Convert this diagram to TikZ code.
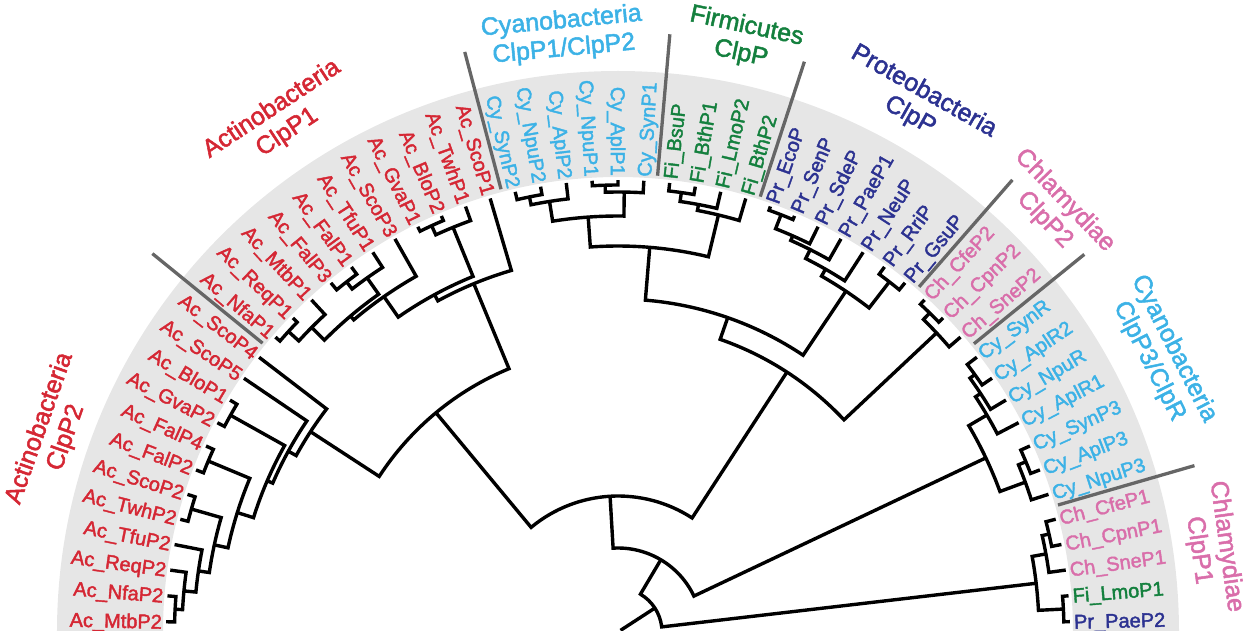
\documentclass[tikz,border=0pt]{standalone}
\usepackage{fontspec}
\setmainfont{Liberation Sans}[FakeBold=2]
\definecolor{act}{RGB}{213,39,52}
\definecolor{cya}{RGB}{60,178,230}
\definecolor{fir}{RGB}{20,128,62}
\definecolor{pro}{RGB}{44,50,145}
\definecolor{chl}{RGB}{217,110,170}
\definecolor{band}{RGB}{230,230,230}
\definecolor{sepc}{RGB}{102,102,102}
\newcommand\LEAF[4]{%
  \pgfmathsetmacro\lang{178.7-3.285*#2}%
  \expandafter\xdef\csname ang@#1\endcsname{\lang}%
  \coordinate (#1) at (\lang:452);
  \ifdim\lang pt>90pt
    \node[leaflab,#3,anchor=east,rotate=\lang-180] (l#1) at (\lang:456) {#4};
  \else
    \node[leaflab,#3,anchor=west,rotate=\lang] (l#1) at (\lang:456) {#4};
  \fi}
\newcommand\CLADE[4]{%
  \edef\angA{\csname ang@#3\endcsname}%
  \edef\angB{\csname ang@#4\endcsname}%
  \pgfmathsetmacro\cang{(\angA+\angB)/2}%
  \expandafter\xdef\csname ang@#1\endcsname{\cang}%
  \coordinate (#1) at (\cang:#2);
  \draw[branch] (#3) -- (\angA:#2) arc[start angle=\angA, end angle=\angB, radius=#2] -- (#4);}
\begin{document}
\begin{tikzpicture}[x=1pt,y=1pt,
  branch/.style={line width=3.4pt, black, line join=miter},
  leaflab/.style={font=\fontsize{20}{21}\selectfont, inner sep=0pt, text height=14.3pt, text depth=0pt},
  grp/.style={font=\fontsize{25}{28}\selectfont, align=center, inner sep=0pt},
  sepline/.style={line width=3.3pt, sepc}]
\clip (-618,2) rectangle (631,632);
\fill[band] (0:455) arc[start angle=0,end angle=180,radius=455] -- (180:561) arc[start angle=180,end angle=0,radius=561] -- cycle;
\foreach \a in {140.9,104.8,85.04,71.9,48.9,39.0,16.1} \draw[sepline] (\a:458) -- (\a:600);
% leaves
\LEAF{t0}{0}{act}{Ac\_MtbP2}
\LEAF{t1}{1}{act}{Ac\_NfaP2}
\LEAF{t2}{2}{act}{Ac\_ReqP2}
\LEAF{t3}{3}{act}{Ac\_TfuP2}
\LEAF{t4}{4}{act}{Ac\_TwhP2}
\LEAF{t5}{5}{act}{Ac\_ScoP2}
\LEAF{t6}{6}{act}{Ac\_FalP2}
\LEAF{t7}{7}{act}{Ac\_FalP4}
\LEAF{t8}{8}{act}{Ac\_GvaP2}
\LEAF{t9}{9}{act}{Ac\_BloP1}
\LEAF{t10}{10}{act}{Ac\_ScoP5}
\LEAF{t11}{11}{act}{Ac\_ScoP4}
\LEAF{t12}{12}{act}{Ac\_NfaP1}
\LEAF{t13}{13}{act}{Ac\_ReqP1}
\LEAF{t14}{14}{act}{Ac\_MtbP1}
\LEAF{t15}{15}{act}{Ac\_FalP3}
\LEAF{t16}{16}{act}{Ac\_FalP1}
\LEAF{t17}{17}{act}{Ac\_TfuP1}
\LEAF{t18}{18}{act}{Ac\_ScoP3}
\LEAF{t19}{19}{act}{Ac\_GvaP1}
\LEAF{t20}{20}{act}{Ac\_BloP2}
\LEAF{t21}{21}{act}{Ac\_TwhP1}
\LEAF{t22}{22}{act}{Ac\_ScoP1}
\LEAF{t23}{23}{cya}{Cy\_SynP2}
\LEAF{t24}{24}{cya}{Cy\_NpuP2}
\LEAF{t25}{25}{cya}{Cy\_AplP2}
\LEAF{t26}{26}{cya}{Cy\_NpuP1}
\LEAF{t27}{27}{cya}{Cy\_AplP1}
\LEAF{t28}{28}{cya}{Cy\_SynP1}
\LEAF{t29}{29}{fir}{Fi\_BsuP}
\LEAF{t30}{30}{fir}{Fi\_BthP1}
\LEAF{t31}{31}{fir}{Fi\_LmoP2}
\LEAF{t32}{32}{fir}{Fi\_BthP2}
\LEAF{t33}{33}{pro}{Pr\_EcoP}
\LEAF{t34}{34}{pro}{Pr\_SenP}
\LEAF{t35}{35}{pro}{Pr\_SdeP}
\LEAF{t36}{36}{pro}{Pr\_PaeP1}
\LEAF{t37}{37}{pro}{Pr\_NeuP}
\LEAF{t38}{38}{pro}{Pr\_RriP}
\LEAF{t39}{39}{pro}{Pr\_GsuP}
\LEAF{t40}{40}{chl}{Ch\_CfeP2}
\LEAF{t41}{41}{chl}{Ch\_CpnP2}
\LEAF{t42}{42}{chl}{Ch\_SneP2}
\LEAF{t43}{43}{cya}{Cy\_SynR}
\LEAF{t44}{44}{cya}{Cy\_AplR2}
\LEAF{t45}{45}{cya}{Cy\_NpuR}
\LEAF{t46}{46}{cya}{Cy\_AplR1}
\LEAF{t47}{47}{cya}{Cy\_SynP3}
\LEAF{t48}{48}{cya}{Cy\_AplP3}
\LEAF{t49}{49}{cya}{Cy\_NpuP3}
\LEAF{t50}{50}{chl}{Ch\_CfeP1}
\LEAF{t51}{51}{chl}{Ch\_CpnP1}
\LEAF{t52}{52}{chl}{Ch\_SneP1}
\LEAF{t53}{53}{fir}{Fi\_LmoP1}
\LEAF{t54}{54}{pro}{Pr\_PaeP2}
% Actinobacteria ClpP2
\CLADE{nA}{443.5}{t0}{t1}
\CLADE{nB}{436}{t2}{nA}
\CLADE{nC}{424}{t3}{nB}
\CLADE{nD}{444}{t4}{t5}
\CLADE{nE}{413}{nC}{nD}
\CLADE{nF}{444}{t6}{t7}
\CLADE{nG}{399}{nE}{nF}
\CLADE{nH}{444}{t8}{t9}
\CLADE{nI}{382}{nG}{nH}
\CLADE{nJ}{376}{nI}{t10}
\CLADE{nK}{367}{nJ}{t11}
% Actinobacteria ClpP1
\CLADE{nP1}{446}{t12}{t13}
\CLADE{nY}{432}{nP1}{t14}
\CLADE{nP2}{443}{t15}{t16}
\CLADE{nZ}{434}{nP2}{t17}
\CLADE{nX}{414}{nY}{nZ}
\CLADE{nP}{409}{nX}{t18}
\CLADE{nR1}{447}{t19}{t20}
\CLADE{nR}{437}{nR1}{t21}
\CLADE{nM1}{384}{nP}{nR}
\CLADE{nM2}{377}{nM1}{t22}
\CLADE{nL}{285}{nK}{nM2}
% Cyanobacteria ClpP1/P2 + Firmicutes
\CLADE{c1}{444}{t23}{t24}
\CLADE{c2}{436}{c1}{t25}
\CLADE{c3}{447}{t26}{t27}
\CLADE{c4}{440}{c3}{t28}
\CLADE{cA}{416}{c2}{c4}
\CLADE{f1}{444}{t29}{t30}
\CLADE{f2}{435}{f1}{t31}
\CLADE{fA}{429}{f2}{t32}
\CLADE{cf}{386}{cA}{fA}
% Proteobacteria
\CLADE{p1}{448}{t33}{t34}
\CLADE{p2}{433}{p1}{t35}
\CLADE{p3}{428}{p2}{t36}
\CLADE{p4}{418}{p3}{t37}
\CLADE{p5}{443}{t38}{t39}
\CLADE{pA}{410}{p4}{p5}
\CLADE{nV}{333}{cf}{pA}
% Chlamydiae ClpP2
\CLADE{h1}{446}{t40}{t41}
\CLADE{hA}{437}{h1}{t42}
\CLADE{nU}{310}{nV}{hA}
\CLADE{nZ1}{136}{nL}{nU}
% Cyanobacteria ClpP3/ClpR
\CLADE{r1}{440}{t43}{t44}
\CLADE{r2}{434}{r1}{t45}
\CLADE{rD}{428}{r2}{t46}
\CLADE{r3}{442}{t47}{t48}
\CLADE{rC}{434}{r3}{t49}
\CLADE{rB}{407}{rD}{rC}
\CLADE{nZ2}{84}{nZ1}{rB}
% Chlamydiae ClpP1
\CLADE{k1}{442}{t50}{t51}
\CLADE{k2}{435}{k1}{t52}
\CLADE{k3}{446}{t53}{t54}
\CLADE{kA}{421}{k2}{k3}
\CLADE{root}{44}{nZ2}{kA}
\coordinate (base) at (\csname ang@root\endcsname:3);
\draw[branch] (root) -- (base);
% group labels
\node[grp,act,rotate=70.6] (gA2) at (160.6:599) {Actinobacteria\\ClpP2};
\node[grp,act,rotate=33.5] (gA1) at (123.5:613) {Actinobacteria\\ClpP1};
\node[grp,cya,rotate=5.3] (gC1) at (95.3:599) {Cyanobacteria\\ClpP1/ClpP2};
\node[grp,fir,rotate=-12] (gF) at (78:605) {Firmicutes\\ClpP};
\node[grp,pro,rotate=-29.5] (gP) at (60.5:607) {Proteobacteria\\ClpP};
\node[grp,chl,rotate=-46] (gCh2) at (44:607) {Chlamydiae\\ClpP2};
\node[grp,cya,rotate=-63] (gC3) at (27:610) {Cyanobacteria\\ClpP3/ClpR};
\node[grp,chl,rotate=-82] (gCh1) at (8:600) {Chlamydiae\\ClpP1};
\end{tikzpicture}
\end{document}
